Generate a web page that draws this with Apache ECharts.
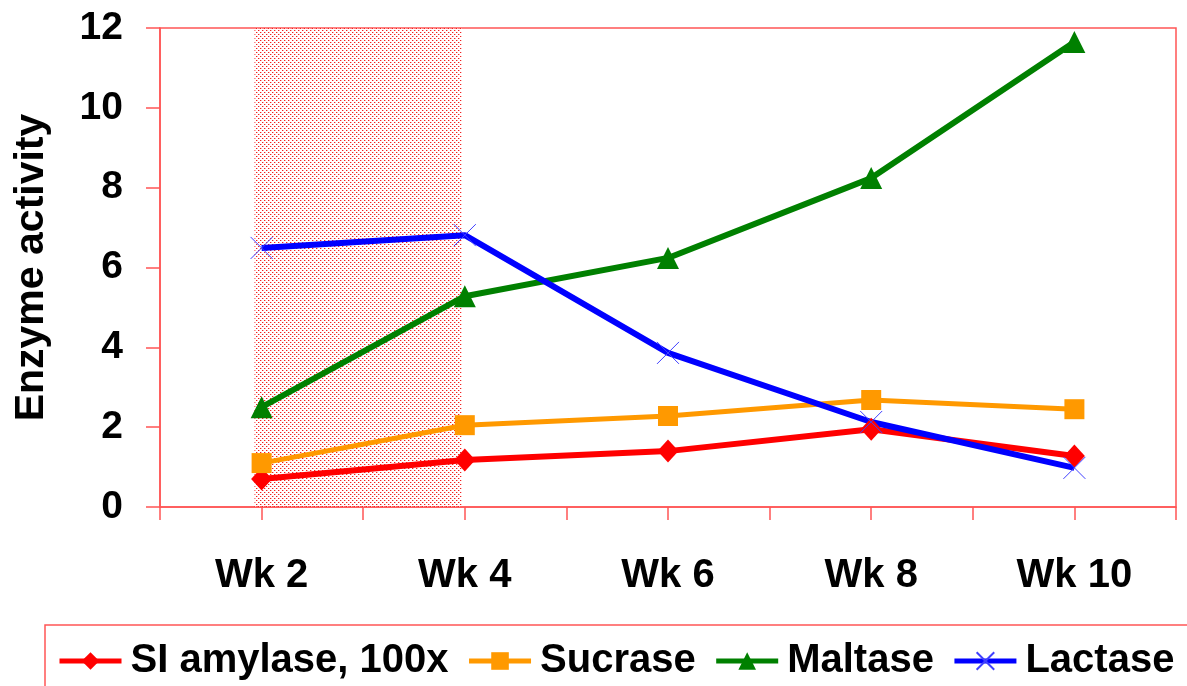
<!DOCTYPE html>
<html>
<head>
<meta charset="utf-8">
<script src="https://cdn.jsdelivr.net/npm/echarts@6/dist/echarts.min.js"></script>
<style>
  html, body { margin: 0; padding: 0; background: #fff; }
  #chart { width: 1187px; height: 686px; }
</style>
</head>
<body>
<div id="chart"></div>
<script>
// Sampling weeks
const weeks = ['Wk 2', 'Wk 4', 'Wk 6', 'Wk 8', 'Wk 10'];

// Enzyme activity per week
const siAmylase = [0.70, 1.18, 1.40, 1.95, 1.28];
const sucrase   = [1.10, 2.05, 2.28, 2.68, 2.45];
const maltase   = [2.50, 5.28, 6.24, 8.24, 11.65];
const lactase   = [6.49, 6.81, 3.86, 2.13, 0.98];

// Y axis ticks
const yTicks = [0, 2, 4, 6, 8, 10, 12];

// Shaded period (in half-week slots along the x axis: week i sits at 2*i+1)
const shadedSpan = [0.93, 2.97];

const FONT = 'Liberation Sans, Arial, sans-serif';
const RED_FRAME = '#FF5555';

// Each week sits in the middle of a two-slot band, so ticks fall both at the
// week and halfway between weeks.
const toPoints = vals => vals.map((v, i) => [2 * i + 1, v]);

// Dotted fill for the shaded period
const tile = document.createElement('canvas');
tile.width = 4; tile.height = 4;
const tctx = tile.getContext('2d');
tctx.fillStyle = '#F02020';
tctx.fillRect(0, 0, 1, 1);
tctx.fillRect(2, 2, 1, 1);
tctx.fillStyle = '#FFB0B0';
tctx.fillRect(1, 0, 1, 1);
tctx.fillRect(3, 2, 1, 1);

const crossPath = 'path://M0,0L10,10M10,0L0,10';

const chart = echarts.init(document.getElementById('chart'), null, { renderer: 'canvas' });

function lineSeries(name, vals, color, symbol, size, width, extra) {
  return Object.assign({
    name: name,
    type: 'line',
    data: toPoints(vals),
    symbol: symbol,
    symbolSize: size,
    showSymbol: true,
    color: color,
    lineStyle: { color: color, width: width },
    itemStyle: { color: color },
    emphasis: { disabled: true },
    animation: false
  }, extra || {});
}

chart.setOption({
  animation: false,
  backgroundColor: '#fff',
  grid: {
    left: 160, top: 28, right: 11, bottom: 179,
    containLabel: false,
    outerBoundsMode: 'none',
    show: true, borderColor: RED_FRAME, borderWidth: 1.5, backgroundColor: 'transparent'
  },
  xAxis: {
    type: 'value',
    min: 0, max: 10, interval: 1,
    axisLine: { show: true, lineStyle: { color: RED_FRAME, width: 1.5 } },
    axisTick: { show: true, length: 13, lineStyle: { color: RED_FRAME, width: 1.5 } },
    splitLine: { show: false },
    axisLabel: {
      margin: 49,
      color: '#000',
      fontFamily: FONT,
      fontWeight: 'bold',
      fontSize: 40,
      showMinLabel: true,
      showMaxLabel: true,
      formatter: v => (v % 2 === 1 ? weeks[(v - 1) / 2] : '')
    }
  },
  yAxis: {
    type: 'value',
    min: yTicks[0], max: yTicks[yTicks.length - 1], interval: 2,
    name: 'Enzyme activity',
    nameLocation: 'middle',
    nameRotate: 90,
    nameGap: 108,
    nameTextStyle: { color: '#000', fontFamily: FONT, fontWeight: 'bold', fontSize: 41 },
    axisLine: { show: true, lineStyle: { color: RED_FRAME, width: 1.5 } },
    axisTick: { show: true, length: 14, lineStyle: { color: RED_FRAME, width: 1.5 } },
    splitLine: { show: false },
    axisLabel: {
      margin: 37,
      color: '#000',
      fontFamily: FONT,
      fontWeight: 'bold',
      fontSize: 39
    }
  },
  legend: {
    left: 52,
    top: 636,
    width: 2000,
    itemWidth: 62,
    itemHeight: 22,
    itemGap: 18,
    selectedMode: false,
    lineStyle: { width: 5 },
    textStyle: {
      color: '#000', fontFamily: FONT, fontWeight: 'bold', fontSize: 40,
      padding: [0, 0, 0, 4]
    },
    data: ['SI amylase, 100x', 'Sucrase', 'Maltase', 'Lactase']
  },
  graphic: [{
    type: 'rect',
    shape: { x: 45, y: 625, width: 1200, height: 100 },
    style: { fill: 'none', stroke: RED_FRAME, lineWidth: 1.5 },
    silent: true,
    z: 0
  }],
  series: [
    lineSeries('SI amylase, 100x', siAmylase, '#FF0000', 'diamond', [21, 23], 6, {
      markArea: {
        silent: true,
        itemStyle: { color: { image: tile, repeat: 'repeat' } },
        data: [[{ xAxis: shadedSpan[0] }, { xAxis: shadedSpan[1] }]]
      }
    }),
    lineSeries('Sucrase', sucrase, '#FF9900', 'rect', 20, 5),
    lineSeries('Maltase', maltase, '#008000', 'triangle', 22, 6),
    lineSeries('Lactase', lactase, '#0000FF', crossPath, 22, 6, {
      itemStyle: { color: 'none', borderColor: '#4040FF', borderWidth: 1 }
    })
  ]
});
</script>
</body>
</html>
